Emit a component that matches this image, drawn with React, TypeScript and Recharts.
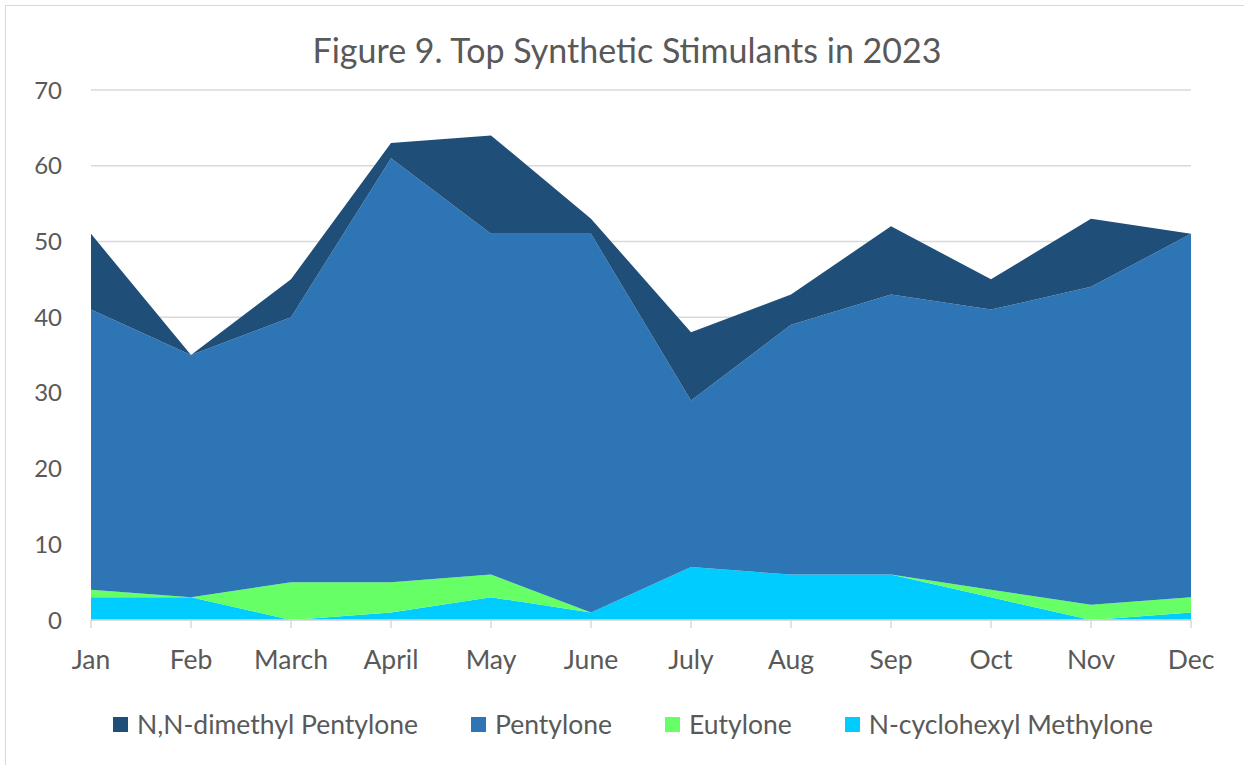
import { Area, AreaChart, CartesianGrid, XAxis, YAxis } from "recharts";

const months = ["Jan", "Feb", "March", "April", "May", "June", "July", "Aug", "Sep", "Oct", "Nov", "Dec"];

// counts per month for each substance (stacked bottom to top)
const cyclohexylMethylone = [3, 3, 0, 1, 3, 1, 7, 6, 6, 3, 0, 1];
const eutylone = [1, 0, 5, 4, 3, 0, 0, 0, 0, 1, 2, 2];
const pentylone = [37, 32, 35, 56, 45, 50, 22, 33, 37, 37, 42, 48];
const dimethylPentylone = [10, 0, 5, 2, 13, 2, 9, 4, 9, 4, 9, 0];

const yTicks = [0, 10, 20, 30, 40, 50, 60, 70];

const series = [
  { key: "dimethyl", name: "N,N-dimethyl Pentylone", color: "#1F4E79", values: dimethylPentylone },
  { key: "pentylone", name: "Pentylone", color: "#2E75B6", values: pentylone },
  { key: "eutylone", name: "Eutylone", color: "#66FF66", values: eutylone },
  { key: "cyclohexyl", name: "N-cyclohexyl Methylone", color: "#00CCFF", values: cyclohexylMethylone },
];

const data = months.map((month, i) => {
  const row: Record<string, string | number> = { month };
  series.forEach((s) => {
    row[s.key] = s.values[i];
  });
  return row;
});

const font = "Lato, 'Open Sans', sans-serif";
const textColor = "#595959";

export default function App() {
  // stacking order is bottom-up, so render the legend order reversed
  const stacked = [...series].reverse();

  return (
    <div style={{ position: "absolute", left: 0, top: 0, width: 1244, height: 765, background: "#fff", fontFamily: font }}>
      <div
        style={{
          position: "absolute",
          left: 5,
          top: 5,
          width: 1250,
          height: 770,
          border: "1px solid #D9D9D9",
          boxSizing: "border-box",
        }}
      />
      <div
        style={{
          position: "absolute",
          left: 0,
          width: 1254,
          top: 29,
          textAlign: "center",
          fontSize: 34,
          color: textColor,
        }}
      >
        Figure 9. Top Synthetic Stimulants in 2023
      </div>
      <div style={{ position: "absolute", left: 0, top: 0 }}>
        <AreaChart
          width={1244}
          height={765}
          data={data}
          margin={{ top: 90, right: 53, bottom: 0, left: 11 }}
        >
          <CartesianGrid vertical={false} stroke="#D9D9D9" strokeWidth={1.5} />
          <XAxis
            dataKey="month"
            height={145}
            stroke="#D9D9D9"
            strokeWidth={1.5}
            tickSize={8}
            tickMargin={22}
            tick={{ fontSize: 26.5, fill: textColor, fontFamily: font }}
            interval={0}
          />
          <YAxis
            width={80}
            domain={[0, 70]}
            ticks={yTicks}
            axisLine={false}
            tickLine={false}
            tickSize={0}
            tickMargin={29}
            tick={{ fontSize: 24, fill: textColor, fontFamily: font }}
          />
          {stacked.map((s) => (
            <Area
              key={s.key}
              type="linear"
              dataKey={s.key}
              name={s.name}
              stackId="a"
              stroke="none"
              fill={s.color}
              fillOpacity={1}
              isAnimationActive={false}
            />
          ))}
        </AreaChart>
      </div>
      <div
        style={{
          position: "absolute",
          left: 0,
          width: 1266,
          top: 708,
          display: "flex",
          justifyContent: "center",
          gap: 53,
          fontSize: 26.5,
          color: textColor,
        }}
      >
        {series.map((s) => (
          <div key={s.key} style={{ display: "flex", alignItems: "center" }}>
            <span style={{ display: "inline-block", width: 15, height: 15, background: s.color, marginRight: 9 }} />
            <span>{s.name}</span>
          </div>
        ))}
      </div>
    </div>
  );
}
